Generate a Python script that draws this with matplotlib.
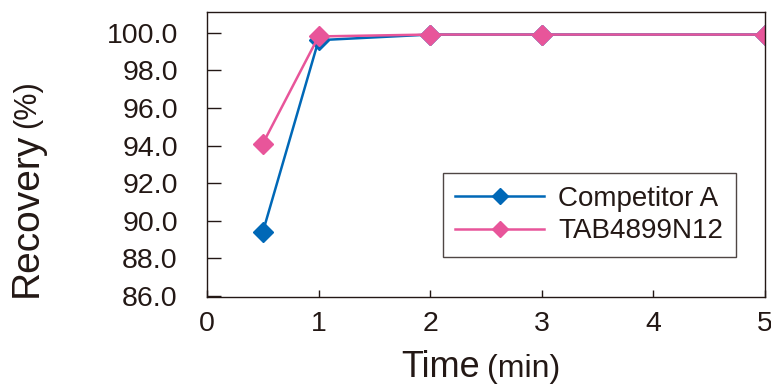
import matplotlib
matplotlib.use('Agg')
import matplotlib.pyplot as plt

# Recovery vs time
time_min = [0.5, 1, 2, 3, 5]
competitor_a = [89.4, 99.6, 99.9, 99.9, 99.9]
tab4899n12 = [94.1, 99.8, 99.9, 99.9, 99.9]
series_names = ['Competitor A', 'TAB4899N12']

x_ticks = [0, 1, 2, 3, 4, 5]
y_ticks = [86.0, 88.0, 90.0, 92.0, 94.0, 96.0, 98.0, 100.0]

ink = '#231815'
blue = '#0068b7'
pink = '#e8559a'

plt.rcParams['font.family'] = ['Liberation Sans', 'DejaVu Sans']

fig = plt.figure(figsize=(7.71, 3.85), dpi=100)
ax = fig.add_axes([0.2685, 0.2286, 0.7235, 0.7403])

ax.plot(time_min, competitor_a, color=blue, lw=1.8, marker='D', ms=10,
        label=series_names[0])
ax.plot(time_min, tab4899n12, color=pink, lw=1.8, marker='D', ms=10,
        label=series_names[1])

ax.set_xlim(0, 5)
ax.set_ylim(85.95, 101.1)
ax.set_xticks(x_ticks)
ax.set_xticklabels([str(t) for t in x_ticks])
ax.set_yticks(y_ticks)
ax.set_yticklabels(['%.1f' % v for v in y_ticks])

for s in ax.spines.values():
    s.set_color(ink)
    s.set_linewidth(1.0)
ax.tick_params(axis='y', direction='in', length=10, width=1.0, color=ink,
               labelsize=20.5, labelcolor=ink, pad=21)
ax.tick_params(axis='x', direction='in', length=5, width=1.0, color=ink,
               labelsize=20.5, labelcolor=ink, pad=10)

leg = ax.legend(loc='upper left', bbox_to_anchor=(0.423, 0.435),
                borderaxespad=0, fontsize=20, frameon=True, fancybox=False,
                handlelength=3.2, borderpad=0.45, labelspacing=0.25,
                handletextpad=0.5, markerscale=0.85)
leg.get_frame().set_edgecolor(ink)
leg.get_frame().set_linewidth(1.0)
for t in leg.get_texts():
    t.set_color(ink)

# axis titles, with the unit in a smaller size
fig.text(0.035, 0.441, 'Recovery', rotation=90, ha='center', va='center',
         fontsize=28, color=ink)
fig.text(0.035, 0.730, '(%)', rotation=90, ha='center', va='center',
         fontsize=22, color=ink)
fig.text(0.572, 0.022, 'Time', ha='center', va='baseline',
         fontsize=26, color=ink)
fig.text(0.679, 0.022, '(min)', ha='center', va='baseline',
         fontsize=23, color=ink)

fig.savefig('out.png', dpi=100)
